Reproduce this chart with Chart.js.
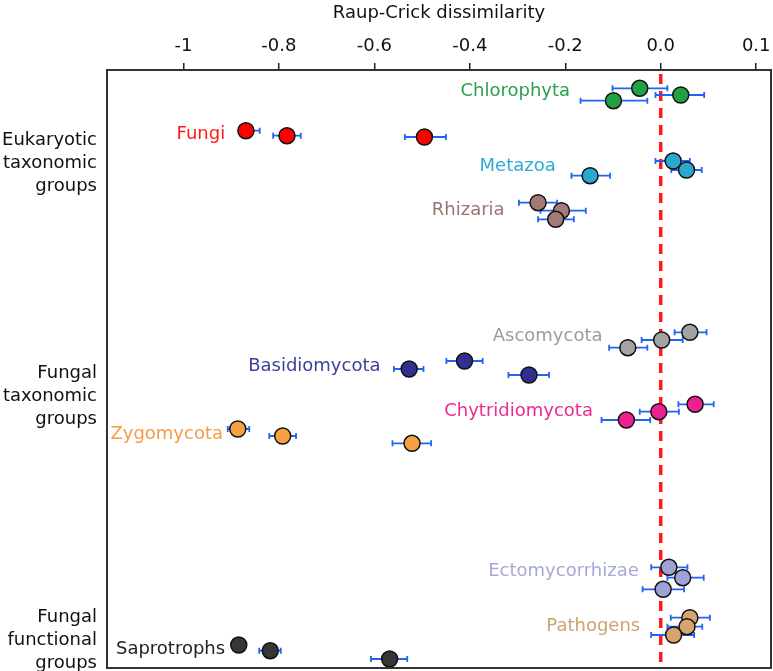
<!DOCTYPE html>
<html lang="en">
<head>
  <meta charset="UTF-8" />
  <title>Raup-Crick dissimilarity</title>
  <script src="https://cdn.jsdelivr.net/npm/chart.js"></script>
  <style>
    body { margin: 0; background: #fff; }
    #wrap { width: 773px; height: 671px; }
  </style>
</head>
<body>
  <div id="wrap"><canvas id="rcChart"></canvas></div>

  <script>
    // series (3 replicate points each)
    const seriesNames = ['Chlorophyta','Fungi','Metazoa','Rhizaria','Ascomycota','Basidiomycota',
                         'Chytridiomycota','Zygomycota','Ectomycorrhizae','Pathogens','Saprotrophs'];
    const pointColors = ['#22a045','#ff0000','#2aa8d0','#a37a78','#a3a3a3','#2e318f',
                         '#ee1f8f','#f7a141','#9fa2d4','#d6a46e','#363636'];
    const labelColors = ['#2c9f4b','#ff1a1a','#30a9d2','#9a7271','#9c9c9c','#3c3f98',
                         '#ec2a90','#f59a45','#a6a8d8','#cfa274','#222222'];

    // mean Raup-Crick values and error bar ends
    const meanValues = [
      [-0.044, -0.099, 0.042],
      [-0.869, -0.783, -0.495],
      [0.026, 0.054, -0.148],
      [-0.257, -0.208, -0.220],
      [-0.069, 0.002, 0.061],
      [-0.527, -0.411, -0.276],
      [-0.072, -0.004, 0.072],
      [-0.886, -0.792, -0.521],
      [0.017, 0.046, 0.005],
      [0.061, 0.055, 0.027],
      [-0.884, -0.818, -0.568]
    ];
    const lowValues = [
      [-0.101, -0.168, -0.011],
      [-0.884, -0.812, -0.536],
      [-0.011, 0.022, -0.187],
      [-0.297, -0.252, -0.257],
      [-0.108, -0.040, 0.029],
      [-0.559, -0.449, -0.319],
      [-0.124, -0.044, 0.037],
      [-0.907, -0.820, -0.562],
      [-0.020, 0.014, -0.038],
      [0.021, 0.014, -0.020],
      [-0.894, -0.841, -0.607]
    ];
    const highValues = [
      [0.014, -0.028, 0.091],
      [-0.840, -0.754, -0.450],
      [0.061, 0.086, -0.106],
      [-0.217, -0.157, -0.182],
      [-0.028, 0.046, 0.096],
      [-0.497, -0.373, -0.234],
      [-0.022, 0.038, 0.111],
      [-0.862, -0.764, -0.481],
      [0.056, 0.090, 0.049],
      [0.103, 0.087, 0.070],
      [-0.874, -0.796, -0.531]
    ];
    // vertical row position of each point (0 = top, 59.8 = bottom)
    const rowValues = [
      [1.83, 3.07, 2.5],
      [6.07, 6.57, 6.7],
      [9.1, 10.0, 10.57],
      [13.27, 14.07, 14.93],
      [27.77, 27.0, 26.23],
      [29.9, 29.1, 30.5],
      [35.0, 34.17, 33.43],
      [35.9, 36.6, 37.33],
      [49.73, 50.77, 51.93],
      [54.77, 55.67, 56.5],
      [57.5, 58.07, 58.9]
    ];

    // where each series name sits (right end, in data units)
    const labelX   = [-0.190, -0.9125, -0.220, -0.327, -0.122, -0.587, -0.142, -0.917, -0.046, -0.043, -0.9125];
    const labelRow = [2.17, 6.4, 9.6, 14.0, 26.67, 29.67, 34.17, 36.4, 50.17, 55.6, 57.93];

    const groupNames = [
      ['Eukaryotic', 'taxonomic', 'groups'],
      ['Fungal', 'taxonomic', 'groups'],
      ['Fungal', 'functional', 'groups']
    ];
    const groupRow = [9.3, 32.67, 57.0];

    const tickValues = [-1, -0.8, -0.6, -0.4, -0.2, 0, 0.2];
    const tickLabels = ['-1', '-0.8', '-0.6', '-0.4', '-0.2', '0.0', '0.1'];

    const FONT = 'DejaVu Sans';

    const datasets = seriesNames.map((name, i) => ({
      label: name,
      data: meanValues[i].map((x, j) => ({ x, y: rowValues[i][j] })),
      backgroundColor: pointColors[i],
      borderColor: '#111',
      borderWidth: 1.5,
      pointRadius: 8,
      clip: false
    }));

    // zero line + error bars under the points
    const underlay = {
      id: 'underlay',
      beforeDatasetsDraw(chart) {
        const { ctx, chartArea, scales: { x, y } } = chart;
        ctx.save();
        const x0 = x.getPixelForValue(0);
        ctx.strokeStyle = '#ff1a1a';
        ctx.lineWidth = 3.5;
        ctx.setLineDash([10, 7]);
        ctx.beginPath();
        ctx.moveTo(x0, chartArea.top + 4);
        ctx.lineTo(x0, chartArea.bottom);
        ctx.stroke();
        ctx.setLineDash([]);

        ctx.strokeStyle = '#2163f5';
        ctx.lineWidth = 1.8;
        seriesNames.forEach((n, i) => {
          meanValues[i].forEach((m, j) => {
            const yy = y.getPixelForValue(rowValues[i][j]);
            const a = x.getPixelForValue(lowValues[i][j]);
            const b = x.getPixelForValue(highValues[i][j]);
            ctx.beginPath();
            ctx.moveTo(a, yy); ctx.lineTo(b, yy);
            ctx.moveTo(a, yy - 3); ctx.lineTo(a, yy + 3);
            ctx.moveTo(b, yy - 3); ctx.lineTo(b, yy + 3);
            ctx.stroke();
          });
        });
        ctx.restore();
      }
    };

    // frame, series names, group names
    const overlay = {
      id: 'overlay',
      afterDraw(chart) {
        const { ctx, chartArea, scales: { x, y } } = chart;
        ctx.save();
        ctx.strokeStyle = '#333';
        ctx.lineWidth = 2;
        ctx.strokeRect(chartArea.left, chartArea.top, chartArea.right - chartArea.left, chartArea.bottom - chartArea.top);

        ctx.font = '18px "' + FONT + '"';
        ctx.textAlign = 'right';
        ctx.textBaseline = 'middle';
        seriesNames.forEach((n, i) => {
          ctx.fillStyle = labelColors[i];
          ctx.fillText(n, x.getPixelForValue(labelX[i]), y.getPixelForValue(labelRow[i]));
        });

        ctx.fillStyle = '#111';
        groupNames.forEach((lines, g) => {
          const mid = y.getPixelForValue(groupRow[g]);
          lines.forEach((t, k) => {
            ctx.fillText(t, chartArea.left - 10, mid + (k - 1) * 23);
          });
        });
        ctx.restore();
      }
    };

    new Chart(document.getElementById('rcChart'), {
      type: 'scatter',
      data: { datasets },
      options: {
        responsive: true,
        maintainAspectRatio: false,
        animation: false,
        layout: { autoPadding: false, padding: { left: 107, right: 2, top: 0, bottom: 3 } },
        plugins: { legend: { display: false }, tooltip: { enabled: false } },
        scales: {
          x: {
            type: 'linear',
            position: 'top',
            min: -1.16,
            max: 0.231,
            afterBuildTicks: s => { s.ticks = tickValues.map(v => ({ value: v })); },
            afterFit: s => { s.height = 70; s.paddingLeft = 0; s.paddingRight = 0; },
            ticks: {
              callback: (v, i) => tickLabels[i],
              font: { family: FONT, size: 18 },
              color: '#111',
              padding: 6,
              maxRotation: 0,
              autoSkip: false
            },
            grid: { drawOnChartArea: false, drawTicks: true, tickLength: 7, color: '#222', lineWidth: 1.5 },
            border: { display: false },
            title: {
              display: true,
              text: 'Raup-Crick dissimilarity',
              font: { family: FONT, size: 18 },
              color: '#111',
              padding: { top: 3, bottom: 0 }
            }
          },
          y: { type: 'linear', min: 0, max: 59.8, reverse: true, display: false }
        }
      },
      plugins: [underlay, overlay]
    });
  </script>
</body>
</html>
